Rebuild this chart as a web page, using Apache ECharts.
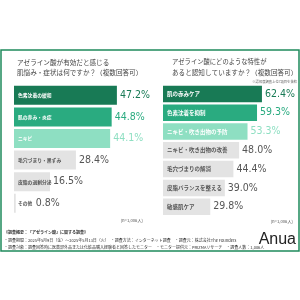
<!DOCTYPE html>
<html><head><meta charset="utf-8">
<script src="https://cdn.jsdelivr.net/npm/echarts@6/dist/echarts.min.js"></script>
<style>html,body{margin:0;padding:0;background:#fff}#c{width:300px;height:300px}</style>
</head><body><div id="c"></div>
<script>
const leftCats = ['色素沈着の緩和', '肌の赤み・炎症', 'ニキビ', '毛穴づまり・黒ずみ', '皮脂の過剰分泌', 'その他'];
const leftVals = [47.2, 44.8, 44.1, 28.4, 16.5, 0.8];
const rightCats = ['肌の赤みケア', '色素沈着を抑制', 'ニキビ・吹き出物の予防', 'ニキビ・吹き出物の改善', '毛穴づまりの解消', '皮脂バランスを整える', '敏感肌ケア'];
const rightVals = [62.4, 59.3, 53.3, 48.0, 44.4, 39.0, 29.8];

const barColors = ['#187a55', '#2aab80', '#8edfc2'];
const grayBar = '#e3e3e3';
const valColors = ['#187a55', '#2aab80', '#8edfc2'];
const JP = "'Noto Sans CJK JP', sans-serif";
const NUM = "'Liberation Sans Narrow', 'DejaVu Sans Condensed', 'Roboto', sans-serif";

function mkSeries(vals, idx, nameSize, special) {
  const a = {
    type: 'bar', xAxisIndex: idx, yAxisIndex: idx, barWidth: idx === 0 ? 19 : 16.5, silent: true,
    data: vals.map((v, i) => ({
      value: v,
      itemStyle: { color: i < 3 ? barColors[i] : grayBar },
      label: { color: i < 3 ? '#ffffff' : '#555555' }
    })),
    label: { show: true, position: 'insideLeft', distance: 4, formatter: '{b}', fontFamily: JP, fontSize: nameSize, fontWeight: 'bold' }
  };
  const b = {
    type: 'bar', xAxisIndex: idx, yAxisIndex: idx, barWidth: idx === 0 ? 19 : 16.5, barGap: '-100%', silent: true,
    data: vals.map((v, i) => {
      const d = { value: v, itemStyle: { color: 'rgba(0,0,0,0)' }, label: { color: i < 3 ? valColors[i] : '#555555' } };
      if (special && special[i]) d.label.offset = special[i];
      return d;
    }),
    label: { show: true, position: 'right', distance: 3, formatter: p => p.value.toFixed(1) + '%', fontFamily: NUM, fontSize: 10.5, fontWeight: 500 }
  };
  return [a, b];
}

const chart = echarts.init(document.getElementById('c'), null, { renderer: 'canvas' });
const footer = [
  '《調査概要：「アゼライン酸」に関する調査》',
  '・調査期間：2025年5月9日（金）～2025年5月13日（火）　・調査方法：インターネット調査　・調査元：株式会社The Founders',
  '・調査対象：調査回答時に医薬部外品または化粧品購入経験者と回答したモニター　・モニター提供元：PRIZMAリサーチ　・調査人数：1,006人'
];
chart.setOption({
  animation: false,
  backgroundColor: '#ffffff',
  grid: [
    { left: 14, top: 84.5, width: 109, height: 129.6 },
    { left: 163, top: 84.5, width: 111, height: 131.6 }
  ],
  xAxis: [
    { gridIndex: 0, type: 'value', min: 0, max: 50, show: false },
    { gridIndex: 1, type: 'value', min: 0, max: 70, show: false }
  ],
  yAxis: [
    { gridIndex: 0, type: 'category', data: leftCats, inverse: true, show: false },
    { gridIndex: 1, type: 'category', data: rightCats, inverse: true, show: false }
  ],
  series: [
    ...mkSeries(leftVals, 0, 4.8, { 5: [17, 0] }),
    ...mkSeries(rightVals, 1, 5.5, null)
  ],
  graphic: [
    { type: 'rect', shape: { x: 1, y: 50, width: 298, height: 201 }, style: { fill: 'none', stroke: '#1f8a5c', lineWidth: 1.5 }, silent: true },
    { type: 'text', x: 17, y: 62, style: { text: 'アゼライン酸が有効だと感じる', font: '6.6px ' + JP, fill: '#444', textVerticalAlign: 'middle' } },
    { type: 'text', x: 17, y: 72, style: { text: '肌悩み・症状は何ですか？（複数回答可）', font: '6.6px ' + JP, fill: '#444', textVerticalAlign: 'middle' } },
    { type: 'text', x: 172, y: 62, style: { text: 'アゼライン酸にどのような特性が', font: '6.3px ' + JP, fill: '#444', textVerticalAlign: 'middle' } },
    { type: 'text', x: 172, y: 72, style: { text: 'あると認知していますか？（複数回答可）', font: '6.6px ' + JP, fill: '#444', textVerticalAlign: 'middle' } },
    { type: 'text', x: 297, y: 82, style: { text: '※認知度調査上位7項目を抜粋', font: '3.3px ' + JP, fill: '#666', textAlign: 'right', textVerticalAlign: 'middle' } },
    { type: 'text', x: 143, y: 220, style: { text: '(n=1,006人)', font: '4.2px ' + JP, fill: '#555', textAlign: 'right', textVerticalAlign: 'middle' } },
    { type: 'text', x: 293, y: 221, style: { text: '(n=1,006人)', font: '4.2px ' + JP, fill: '#555', textAlign: 'right', textVerticalAlign: 'middle' } },
    { type: 'text', x: 4, y: 232, style: { text: footer[0], font: 'bold 4px ' + JP, fill: '#333', textVerticalAlign: 'middle' } },
    { type: 'text', x: 4, y: 240, style: { text: footer[1], font: '4px ' + JP, fill: '#333', textVerticalAlign: 'middle' } },
    { type: 'text', x: 4, y: 247, style: { text: footer[2], font: '4px ' + JP, fill: '#333', textVerticalAlign: 'middle' } },
    { type: 'text', x: 296, y: 240, style: { text: 'Anua', font: '16px "Liberation Sans", sans-serif', fill: '#222', textAlign: 'right', textVerticalAlign: 'middle' } }
  ]
});
</script></body></html>
